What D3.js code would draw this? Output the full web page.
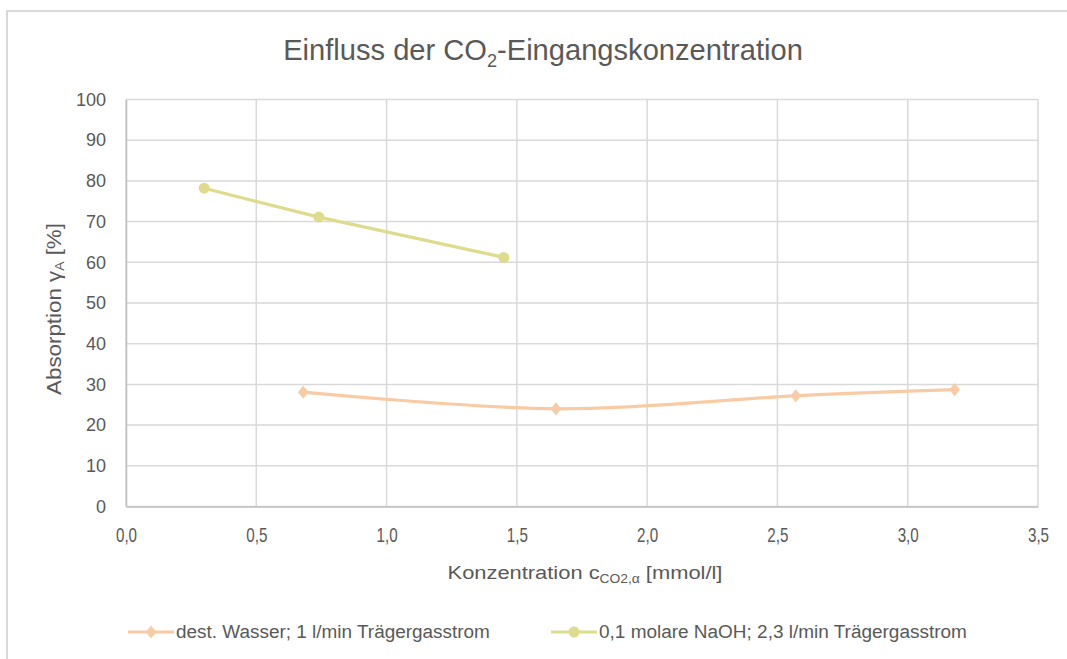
<!DOCTYPE html>
<html>
<head>
<meta charset="utf-8">
<script src="https://cdn.jsdelivr.net/npm/d3@7"></script>
<style>
  html, body { margin: 0; padding: 0; background: #ffffff; }
  svg { display: block; }
</style>
</head>
<body>
<svg id="chart" width="1067" height="659"></svg>
<script>
// Series: distilled water, 1 l/min carrier gas
const waterX = [0.68, 1.65, 2.57, 3.18];
const waterY = [28.1, 24.0, 27.2, 28.7];
// Series: 0.1 molar NaOH, 2.3 l/min carrier gas
const naohX = [0.30, 0.74, 1.45];
const naohY = [78.2, 71.1, 61.2];

const seriesNames = ["dest. Wasser; 1 l/min Trägergasstrom", "0,1 molare NaOH; 2,3 l/min Trägergasstrom"];
const xTicks = [0, 0.5, 1, 1.5, 2, 2.5, 3, 3.5];
const yTicks = [0, 10, 20, 30, 40, 50, 60, 70, 80, 90, 100];

const waterColor = "#f9cba5";
const naohColor = "#dfdb8d";
const textColor = "#595959";
const gridColor = "#d9d9d9";
const FONT = "'Liberation Sans', Arial, sans-serif";

const svg = d3.select("#chart");

// squeeze a text element horizontally so it spans `width` px, anchored at (ax, ay)
function fitText(textSel, width, ax, ay, rotate) {
  const w = textSel.node().getBBox().width;
  const s = width / w;
  textSel.attr("x", 0).attr("y", 0)
    .attr("transform", `translate(${ax},${ay})${rotate ? ` rotate(${rotate})` : ""} scale(${s},1)`);
}

// chart frame
svg.append("rect")
  .attr("x", 7).attr("y", 11)
  .attr("width", 1080).attr("height", 670)
  .attr("fill", "#ffffff")
  .attr("stroke", "#d9d9d9").attr("stroke-width", 2);

const plot = { left: 126, right: 1038, top: 99.5, bottom: 506.5 };

const x = d3.scaleLinear().domain([0, 3.5]).range([plot.left, plot.right]);
const y = d3.scaleLinear().domain([0, 100]).range([plot.bottom, plot.top]);

const fmt = d3.format(".1f");
const deComma = v => fmt(v).replace(".", ",");

// title
const title = svg.append("text")
  .style("font-family", FONT)
  .attr("text-anchor", "middle")
  .attr("font-size", 29)
  .attr("fill", textColor);
title.append("tspan").text("Einfluss der CO");
title.append("tspan").attr("font-size", 18).attr("dy", 7).text("2");
title.append("tspan").attr("dy", -7).text("-Eingangskonzentration");
fitText(title, 520, 543, 60);

// gridlines
const grid = svg.append("g");
grid.selectAll("line.h").data(yTicks).join("line")
  .attr("x1", plot.left).attr("x2", plot.right)
  .attr("y1", d => y(d)).attr("y2", d => y(d))
  .attr("stroke", gridColor).attr("stroke-width", 1.5);
grid.selectAll("line.v").data(xTicks).join("line")
  .attr("x1", d => x(d)).attr("x2", d => x(d))
  .attr("y1", plot.top).attr("y2", plot.bottom)
  .attr("stroke", gridColor).attr("stroke-width", 1.5);

// axes
const yAxis = svg.append("g")
  .attr("transform", `translate(${plot.left},0)`)
  .call(d3.axisLeft(y).tickValues(yTicks).tickSize(0).tickPadding(20));
yAxis.attr("font-family", null).attr("font-size", null);
yAxis.select(".domain").attr("stroke", "#bfbfbf").attr("stroke-width", 1.5);
yAxis.selectAll("text").style("font-family", FONT).attr("font-size", 18).attr("fill", textColor);

const xAxis = svg.append("g")
  .attr("transform", `translate(0,${plot.bottom})`)
  .call(d3.axisBottom(x).tickValues(xTicks).tickFormat(deComma).tickSize(0).tickPadding(21));
xAxis.attr("font-family", null).attr("font-size", null);
xAxis.select(".domain").attr("stroke", "#bfbfbf").attr("stroke-width", 1.5);
xAxis.selectAll("text").style("font-family", FONT).attr("font-size", 20).attr("fill", textColor)
  .attr("transform", "scale(0.76,1)")
  .attr("x", 0);

// axis titles
const xTitle = svg.append("text")
  .style("font-family", FONT)
  .attr("text-anchor", "middle")
  .attr("font-size", 19)
  .attr("fill", textColor);
xTitle.append("tspan").text("Konzentration c");
xTitle.append("tspan").attr("font-size", 12).attr("dy", 4).text("CO2,α");
xTitle.append("tspan").attr("dy", -4).text(" [mmol/l]");
fitText(xTitle, 275, 585, 579);

const yTitle = svg.append("text")
  .style("font-family", FONT)
  .attr("text-anchor", "middle")
  .attr("font-size", 21)
  .attr("fill", textColor);
yTitle.append("tspan").text("Absorption γ");
yTitle.append("tspan").attr("font-size", 13).attr("dy", 3).text("A");
yTitle.append("tspan").attr("dy", -3).text(" [%]");
fitText(yTitle, 172, 61, 309, -90);

// series lines
const waterData = waterX.map((v, i) => [v, waterY[i]]);
const naohData = naohX.map((v, i) => [v, naohY[i]]);

const smooth = d3.line().x(d => x(d[0])).y(d => y(d[1])).curve(d3.curveCardinal.tension(0));
const straight = d3.line().x(d => x(d[0])).y(d => y(d[1]));

svg.append("path").datum(waterData)
  .attr("d", smooth)
  .attr("fill", "none").attr("stroke", waterColor).attr("stroke-width", 3.2);
svg.append("path").datum(naohData)
  .attr("d", straight)
  .attr("fill", "none").attr("stroke", naohColor).attr("stroke-width", 3.2);

const diamond = d3.symbol().type(d3.symbolDiamond2).size(110);

svg.append("g").selectAll("path").data(waterData).join("path")
  .attr("d", diamond)
  .attr("transform", d => `translate(${x(d[0])},${y(d[1])}) scale(0.8,1)`)
  .attr("fill", waterColor);

svg.append("g").selectAll("circle").data(naohData).join("circle")
  .attr("cx", d => x(d[0])).attr("cy", d => y(d[1]))
  .attr("r", 5.5)
  .attr("fill", naohColor);

// legend
const legendY = 632;
const legendItems = [
  { name: seriesNames[0], color: waterColor, x0: 128, marker: "diamond", width: 314 },
  { name: seriesNames[1], color: naohColor, x0: 551, marker: "circle", width: 368 }
];
const legend = svg.append("g");
legendItems.forEach(item => {
  const g = legend.append("g");
  g.append("line")
    .attr("x1", item.x0).attr("x2", item.x0 + 46)
    .attr("y1", legendY).attr("y2", legendY)
    .attr("stroke", item.color).attr("stroke-width", 3);
  if (item.marker === "diamond") {
    g.append("path").attr("d", diamond)
      .attr("transform", `translate(${item.x0 + 23},${legendY}) scale(0.8,1)`)
      .attr("fill", item.color);
  } else {
    g.append("circle").attr("cx", item.x0 + 23).attr("cy", legendY).attr("r", 5.5)
      .attr("fill", item.color);
  }
  const t = g.append("text")
    .style("font-family", FONT)
    .attr("font-size", 18)
    .attr("fill", textColor)
    .text(item.name);
  fitText(t, item.width, item.x0 + 48, legendY + 6);
});
</script>
</body>
</html>
